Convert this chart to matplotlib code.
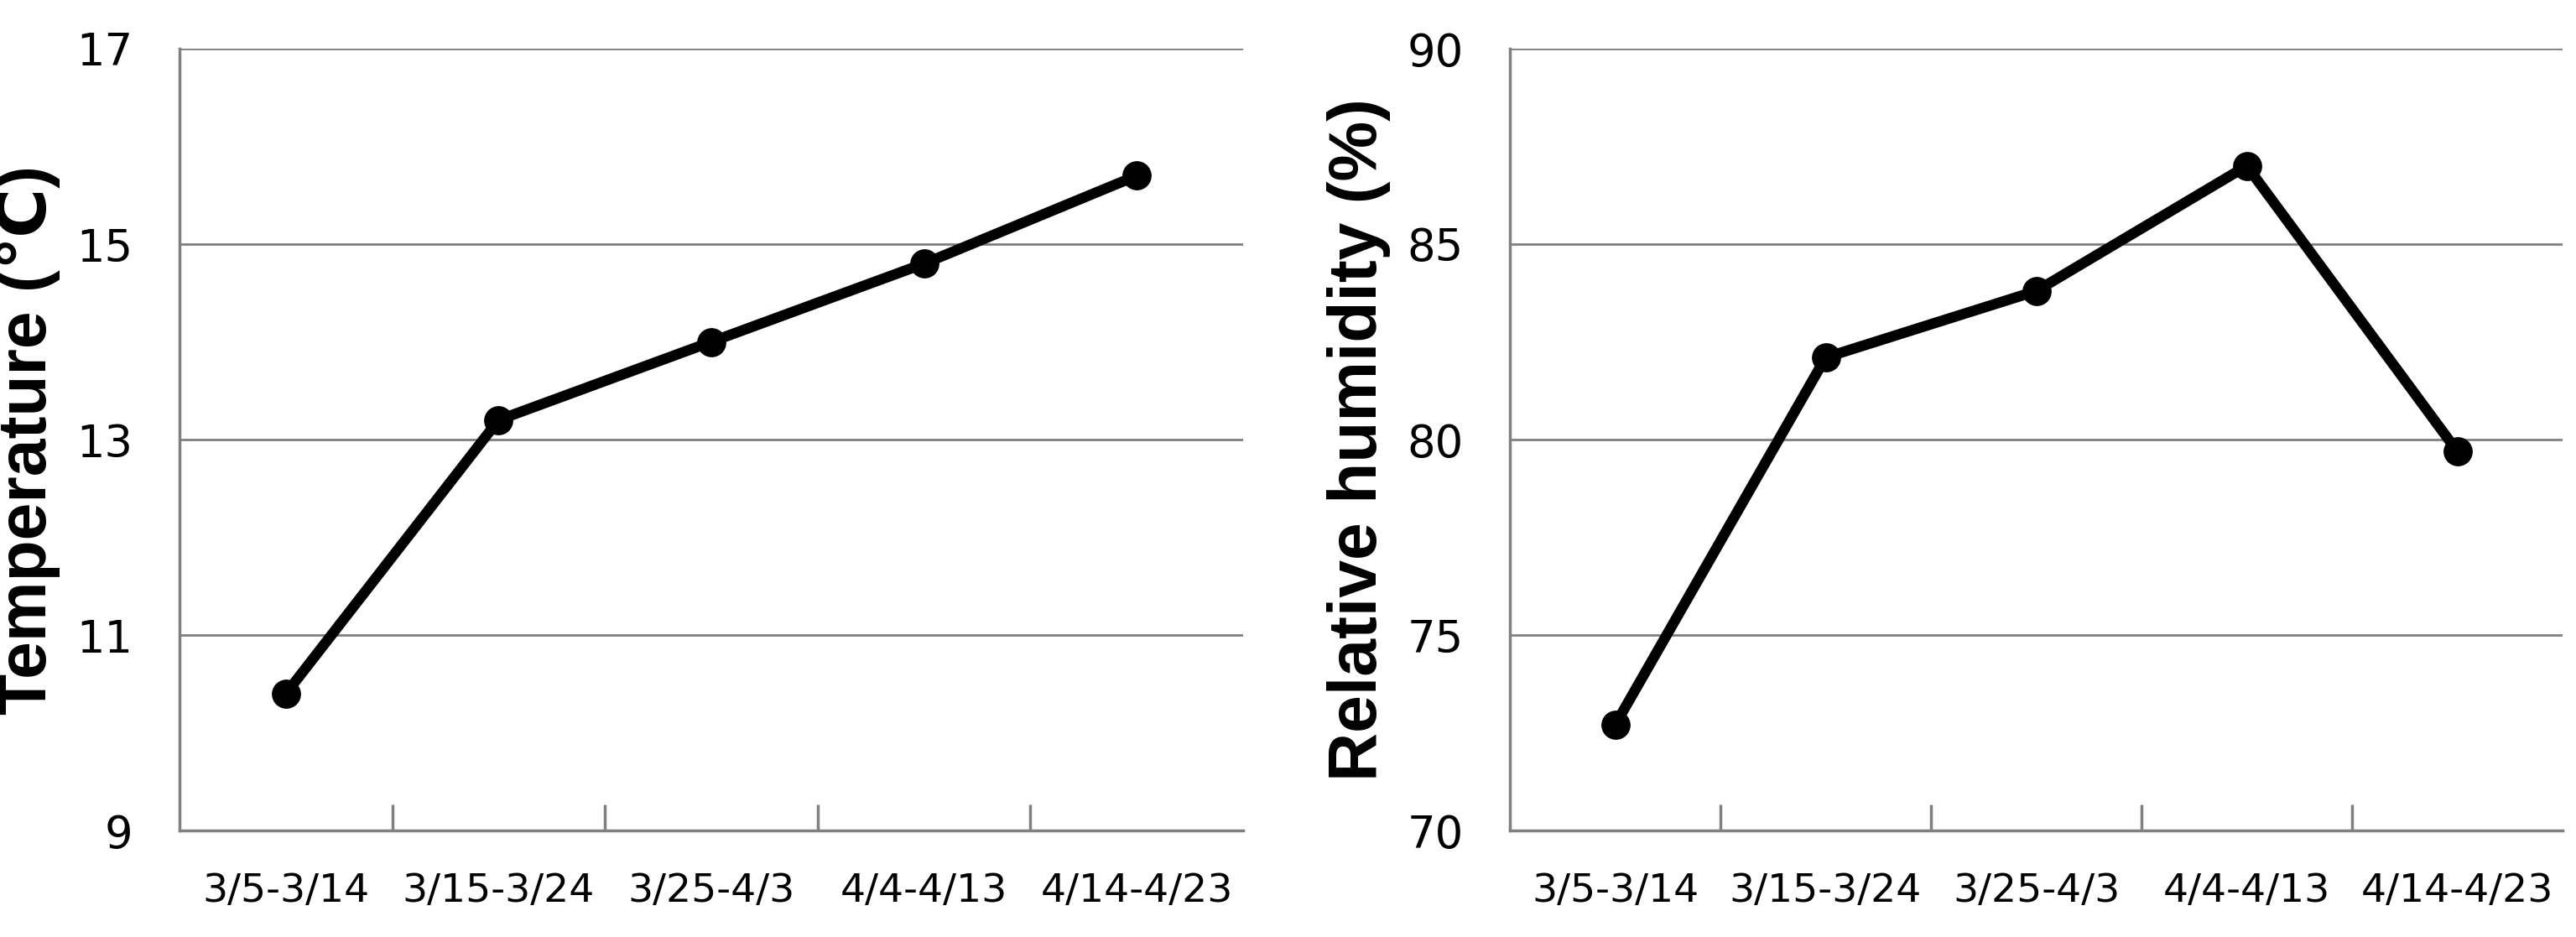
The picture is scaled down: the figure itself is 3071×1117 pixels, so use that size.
import numpy as np
import matplotlib.pyplot as plt

periods = ["3/5-3/14", "3/15-3/24", "3/25-4/3", "4/4-4/13", "4/14-4/23"]
temperature = [10.4, 13.2, 14.0, 14.8, 15.7]
humidity = [72.7, 82.1, 83.8, 87.0, 79.7]

tick_font = ["Liberation Sans Narrow", "DejaVu Sans"]
label_font = ["Liberation Sans", "DejaVu Sans"]

fig = plt.figure(figsize=(30.71, 11.17), dpi=100)
ax1 = fig.add_axes([214 / 3071, 1 - 990 / 1117, (1482 - 214) / 3071, (990 - 58) / 1117])
ax2 = fig.add_axes([1800 / 3071, 1 - 990 / 1117, (3055 - 1800) / 3071, (990 - 58) / 1117])


def style(ax, values, ylim, yticks, ylabel):
    x = np.arange(len(periods))
    ax.plot(x, values, color="black", linewidth=9, marker="o", markersize=24, zorder=3)
    ax.set_xlim(-0.5, len(periods) - 0.5)
    ax.set_ylim(*ylim)
    ax.set_yticks(yticks)
    ax.grid(axis="y", color="#808080", linewidth=2)
    for s in ["top", "right"]:
        ax.spines[s].set_visible(False)
    for s in ["left", "bottom"]:
        ax.spines[s].set_color("#808080")
        ax.spines[s].set_linewidth(2.5)
    ax.set_xticks(x)
    ax.set_xticklabels(periods, family=tick_font, fontsize=34)
    ax.set_xticks(np.arange(0.5, len(periods) - 1, 1), minor=True)
    ax.tick_params(axis="x", which="major", length=0, pad=36)
    ax.tick_params(axis="x", which="minor", direction="in", length=22, width=2.5, color="#808080")
    ax.tick_params(axis="y", length=0, pad=40)
    for lab in ax.get_yticklabels():
        lab.set_family(tick_font)
        lab.set_fontsize(38)
    ax.set_ylabel(ylabel, family=label_font, fontsize=58, fontweight="bold", labelpad=14)


style(ax1, temperature, (9, 17), [9, 11, 13, 15, 17], "Temperature (\u2103)")
style(ax2, humidity, (70, 90), [70, 75, 80, 85, 90], "Relative humidity (%)")

plt.savefig("out.png", dpi=100)
